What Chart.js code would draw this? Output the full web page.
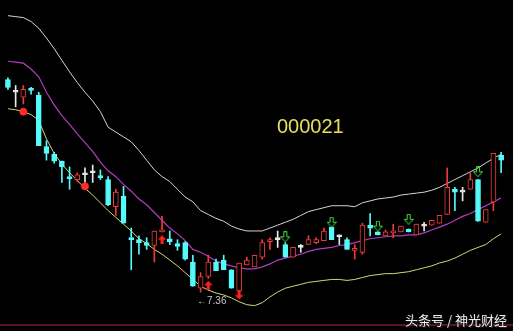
<!DOCTYPE html>
<html><head><meta charset="utf-8">
<script src="https://cdn.jsdelivr.net/npm/chart.js@4.4.1/dist/chart.umd.min.js"></script>
<style>
html,body{margin:0;padding:0;background:#000;width:513px;height:331px;overflow:hidden;}
#wrap{position:relative;width:513px;height:331px;}
canvas{position:absolute;left:0;top:0;}
.t{position:absolute;white-space:nowrap;line-height:1;}
#code{left:277px;top:115px;font:20px "Liberation Sans",Arial,sans-serif;color:#e4e05c;}
#low{left:197px;top:295px;font:10px "Liberation Sans",Arial,sans-serif;color:#c8c8c8;}
#wm{left:405px;top:310px;font:13px "Noto Sans CJK SC",sans-serif;color:#ececec;text-shadow:0 0 2px #000,1px 1px 1px #333;}
#base{position:absolute;left:0;top:324px;width:513px;height:2px;background:#5a1426;}
</style></head>
<body><div id="wrap">
<canvas id="c" width="513" height="331"></canvas>
<div id="base"></div>
<div class="t" id="code">000021</div>
<div class="t" id="low">←7.36</div>
<div class="t" id="wm">头条号 / 神光财经</div>
</div>
<script>
const openP  = [11.74,11.48,11.38,11.56,11.42,10.36,10.20,10.06,9.74,9.68,9.78,9.82,9.76,9.68,9.12,9.34,8.48,8.44,8.38,8.32,8.60,8.46,8.36,8.38,7.98,7.44,7.68,7.98,8.02,7.82,7.38,7.92,7.88,8.08,8.40,8.44,8.34,8.08,8.28,8.34,8.38,8.42,8.70,8.50,8.44,8.22,8.18,8.74,8.60,8.52,8.58,8.60,8.66,8.54,8.72,8.74,8.78,8.96,9.48,9.42,9.48,9.68,8.80,9.22,10.18];
const highP  = [11.78,11.62,11.62,11.58,11.48,10.48,10.24,10.06,9.94,9.82,9.92,9.98,9.88,9.74,9.48,9.54,8.68,8.52,8.48,8.62,8.92,8.62,8.44,8.40,8.12,7.76,8.12,8.04,8.12,7.82,7.96,8.08,8.12,8.44,8.48,8.62,8.38,8.28,8.34,8.52,8.48,8.68,8.70,8.54,8.48,8.34,8.78,8.98,8.60,8.64,8.76,8.72,8.66,8.76,8.80,8.84,8.94,9.92,9.52,9.52,9.82,9.68,9.06,10.22,10.24];
const lowP   = [11.54,11.18,11.24,11.44,10.38,10.08,10.02,9.62,9.48,9.64,9.62,9.62,9.68,9.14,8.94,8.78,7.82,8.14,8.24,7.98,8.60,8.34,8.22,8.02,7.48,7.36,7.64,7.80,7.82,7.44,7.38,7.92,7.88,8.04,8.24,8.28,8.08,8.08,8.18,8.34,8.36,8.42,8.44,8.34,8.24,8.04,8.14,8.52,8.54,8.52,8.48,8.60,8.60,8.54,8.62,8.74,8.78,8.96,9.04,9.24,9.48,8.82,8.80,9.04,9.82];
const closeP = [11.58,11.48,11.54,11.52,10.38,10.22,10.06,9.94,9.70,9.78,9.78,9.82,9.72,9.16,9.42,8.78,8.44,8.38,8.32,8.62,8.64,8.40,8.30,8.04,7.48,7.68,7.98,7.80,7.82,7.44,7.96,8.02,8.12,8.38,8.44,8.44,8.08,8.28,8.28,8.44,8.44,8.62,8.44,8.50,8.24,8.26,8.74,8.68,8.54,8.60,8.62,8.72,8.60,8.76,8.72,8.84,8.94,9.52,9.42,9.42,9.68,8.82,9.06,10.22,10.08];
const upperBand = [13.06,13.04,13.02,12.94,12.80,12.60,12.38,12.14,11.90,11.68,11.48,11.30,11.08,10.76,10.66,10.56,10.46,10.28,10.08,9.88,9.74,9.64,9.48,9.32,9.22,9.04,8.96,8.88,8.82,8.72,8.66,8.62,8.62,8.62,8.68,8.74,8.80,8.86,8.94,9.02,9.06,9.10,9.14,9.14,9.14,9.12,9.20,9.24,9.28,9.30,9.32,9.36,9.38,9.40,9.42,9.46,9.52,9.60,9.68,9.76,9.84,9.92,10.02,10.12,10.20];
const midBand   = [12.12,12.10,12.08,11.96,11.80,11.48,11.22,11.00,10.82,10.62,10.44,10.26,10.04,9.86,9.74,9.58,9.44,9.28,9.16,9.00,8.84,8.68,8.56,8.42,8.24,8.18,8.10,8.00,7.94,7.90,7.86,7.84,7.84,7.88,7.94,8.02,8.06,8.10,8.14,8.20,8.24,8.26,8.28,8.32,8.34,8.38,8.42,8.46,8.48,8.50,8.52,8.52,8.54,8.54,8.58,8.64,8.70,8.76,8.84,8.92,8.98,9.06,9.14,9.22,9.30];
const lowerBand = [11.14,11.12,11.08,11.02,10.90,10.52,10.22,10.00,9.82,9.66,9.50,9.36,9.20,9.04,8.90,8.76,8.62,8.46,8.36,8.24,8.14,8.02,7.90,7.76,7.62,7.48,7.40,7.34,7.30,7.24,7.16,7.10,7.08,7.14,7.26,7.36,7.44,7.48,7.52,7.56,7.58,7.60,7.62,7.62,7.60,7.62,7.66,7.70,7.72,7.74,7.74,7.76,7.78,7.82,7.86,7.90,7.96,8.00,8.06,8.14,8.22,8.28,8.34,8.46,8.56];
const greenArrowIdx = [36,42,48,52,61];
const greenArrowVal = [8.50,8.80,8.72,8.86,9.84];
const redUpIdx = [20,26];
const redUpVal = [8.44,7.50];
const redDownIdx = [30];
const redDownVal = [7.30];
const redDotIdx = [2,10];
const redDotVal = [11.08,9.54];

const RED = '#f03a3a', CYAN = '#55fafa', WHITE = '#e8e8e8';
function col(i){ return closeP[i] > openP[i] ? RED : (closeP[i] < openP[i] ? CYAN : WHITE); }

function mk(w,h,draw){ const c=document.createElement('canvas'); c.width=w; c.height=h; const g=c.getContext('2d'); draw(g); return c; }
const greenArrow = mk(10,11,g=>{ g.strokeStyle='#3ee03e'; g.lineWidth=1; g.beginPath();
  g.moveTo(3.5,0.5); g.lineTo(6.5,0.5); g.lineTo(6.5,5.5); g.lineTo(9.5,5.5); g.lineTo(5,10.5); g.lineTo(0.5,5.5); g.lineTo(3.5,5.5); g.closePath(); g.stroke(); });
const redUp = mk(9,9,g=>{ g.fillStyle='#ff2020'; g.beginPath();
  g.moveTo(4.5,0); g.lineTo(9,4.5); g.lineTo(6,4.5); g.lineTo(6,9); g.lineTo(3,9); g.lineTo(3,4.5); g.lineTo(0,4.5); g.closePath(); g.fill(); });
const redDown = mk(9,9,g=>{ g.fillStyle='#ff2020'; g.beginPath();
  g.moveTo(3,0); g.lineTo(6,0); g.lineTo(6,4.5); g.lineTo(9,4.5); g.lineTo(4.5,9); g.lineTo(0,4.5); g.lineTo(3,4.5); g.closePath(); g.fill(); });

const idx = openP.map((_,i)=>i);
const wickData = idx.map(i=>({x:i, y:[lowP[i], highP[i]]}));
const bodyData = idx.map(i=>({x:i, y:[openP[i], closeP[i]]}));
const lineData = arr => arr.map((v,i)=>({x:i, y:v}));
const pts = (ix, vals) => ix.map((x,k)=>({x, y:vals[k]}));

new Chart(document.getElementById('c'), {
  type: 'bar',
  data: { datasets: [
    { type:'line', data: lineData(upperBand), borderColor:'#d6d6d6', borderWidth:1, pointRadius:0, order:10 },
    { type:'line', data: lineData(midBand), borderColor:'#b43cc0', borderWidth:1.2, pointRadius:0, order:10 },
    { type:'line', data: lineData(lowerBand), borderColor:'#d8d47a', borderWidth:1, pointRadius:0, order:10 },
    { type:'bar', data: wickData, grouped:false, barThickness:1, borderWidth:0,
      backgroundColor: ctx => col(ctx.dataIndex), order:5 },
    { type:'bar', data: bodyData, grouped:false, barThickness:5, minBarLength:2, borderWidth:1, borderSkipped:false,
      backgroundColor: ctx => { const c = col(ctx.dataIndex); return c===RED ? '#000' : c; },
      borderColor: ctx => col(ctx.dataIndex), order:4 },
    { type:'line', showLine:false, data: pts(greenArrowIdx, greenArrowVal), pointStyle: greenArrow, order:1 },
    { type:'line', showLine:false, data: pts(redUpIdx, redUpVal), pointStyle: redUp, order:1 },
    { type:'line', showLine:false, data: pts(redDownIdx, redDownVal), pointStyle: redDown, order:1 },
    { type:'line', showLine:false, data: pts(redDotIdx, redDotVal), pointStyle:'circle', pointRadius:3.5,
      backgroundColor:'#ff2a2a', borderColor:'#ff2a2a', order:1 }
  ]},
  options: {
    responsive:false, animation:false, devicePixelRatio:1,
    layout:{ padding:0 },
    plugins:{ legend:{display:false}, tooltip:{enabled:false} },
    scales:{
      x:{ type:'linear', offset:false, min:-0.38, max:64.89, display:false },
      y:{ min:6.66, max:13.28, display:false }
    }
  }
});
</script>
</body></html>
